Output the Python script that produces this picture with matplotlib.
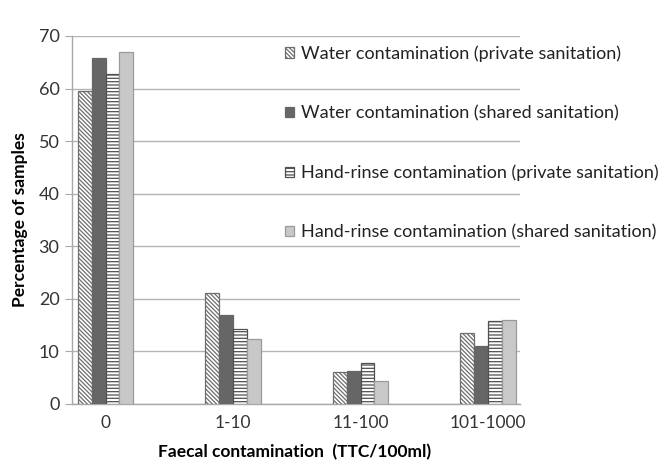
import numpy as np
import matplotlib
matplotlib.use("Agg")
import matplotlib.pyplot as plt

plt.rcParams["font.family"] = ["Lato", "DejaVu Sans"]
plt.rcParams["hatch.linewidth"] = 0.9

# --- data ---
categories = ["0", "1-10", "11-100", "101-1000"]
water_private = [59.5, 21.1, 6.0, 13.6]
water_shared = [65.8, 16.9, 6.3, 11.0]
hand_private = [62.7, 14.3, 7.8, 15.7]
hand_shared = [67.0, 12.4, 4.3, 16.0]
labels = [
    "Water contamination (private sanitation)",
    "Water contamination (shared sanitation)",
    "Hand-rinse contamination (private sanitation)",
    "Hand-rinse contamination (shared sanitation)",
]
y_ticks = [0, 10, 20, 30, 40, 50, 60, 70]

fig = plt.figure(figsize=(6.63, 4.62), dpi=100)
ax = fig.add_axes([72 / 663, 1 - 404 / 462, (520 - 72) / 663, (404 - 36) / 462])

x = np.arange(len(categories))
w = 0.109
series = [water_private, water_shared, hand_private, hand_shared]
styles = [
    dict(color="white", edgecolor="#6e6e6e", hatch="\\" * 8),
    dict(color="#666666", edgecolor="#666666"),
    dict(color="white", edgecolor="#505050", hatch="-----"),
    dict(color="#c8c8c8", edgecolor="#9a9a9a"),
]
bars = []
for i, (vals, st) in enumerate(zip(series, styles)):
    b = ax.bar(x + (i - 1.5) * w, vals, w, linewidth=0.9, zorder=3, **st)
    bars.append(b)

ax.set_xlim(-0.263, 3.251)
ax.set_ylim(0, 70)
ax.set_yticks(y_ticks)
ax.set_xticks(x)
ax.set_xticklabels(categories)
ax.yaxis.grid(True, color="#b4b4b4", linewidth=1.0, zorder=0)
ax.set_axisbelow(True)

for s in ["top", "right"]:
    ax.spines[s].set_visible(False)
for s in ["left", "bottom"]:
    ax.spines[s].set_color("#a8a8a8")
    ax.spines[s].set_linewidth(1.0)

ax.tick_params(axis="y", length=5, color="#a8a8a8", labelsize=13, labelcolor="#333333", pad=4)
ax.tick_params(axis="x", length=0, labelsize=12.5, labelcolor="#333333", pad=8)

ax.set_xlabel("Faecal contamination  (TTC/100ml)", fontsize=12.5, fontweight="bold")
ax.xaxis.set_label_coords((295 - 72) / (520 - 72), -(444 - 404) / (404 - 36))
ax.set_ylabel("Percentage of samples", fontsize=12.5, fontweight="bold")
ax.yaxis.set_label_coords(-(72 - 28) / (520 - 72), 0.5)

fig.legend(
    [b[0] for b in bars],
    labels,
    loc="upper left",
    bbox_to_anchor=(269 / 663, 1 - 29 / 462),
    frameon=False,
    fontsize=13,
    handlelength=0.5,
    handleheight=0.5,
    handletextpad=0.35,
    labelspacing=2.4,
    labelcolor="#222222",
)

fig.savefig("out.png", dpi=100)
